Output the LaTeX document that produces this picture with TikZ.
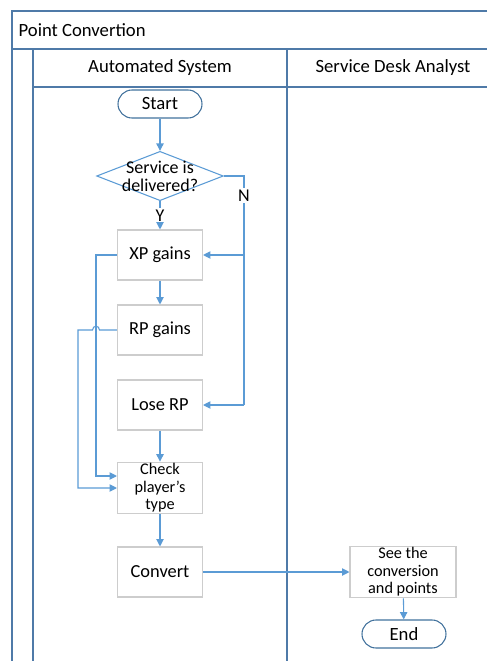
\documentclass[tikz,border=0pt]{standalone}
\usepackage{fontspec}
\setmainfont{Carlito}
\usetikzlibrary{arrows.meta,shapes.geometric}
\definecolor{flowblue}{RGB}{91,155,213}
\definecolor{laneblue}{RGB}{79,122,168}
\definecolor{termblue}{RGB}{65,113,156}
\definecolor{boxgray}{RGB}{205,205,205}

\begin{document}
\begin{tikzpicture}[x=0.75pt, y=-0.75pt, >={Triangle[length=5.5pt,width=5.5pt]},
  lane/.style={draw=laneblue, line width=1pt},
  process/.style={draw=boxgray, line width=0.8pt, minimum width=63.75pt,
    minimum height=37.5pt, inner sep=1pt, align=center, font=\fontsize{13.8}{15}\selectfont},
  term/.style={draw=termblue, line width=0.8pt, rounded corners=10.5pt,
    minimum width=63pt, minimum height=21pt, font=\fontsize{14}{15}\selectfont},
  decision/.style={diamond, draw=flowblue, line width=0.8pt, inner sep=0pt,
    minimum width=95pt, minimum height=37pt},
  small/.style={font=\fontsize{12.2}{13.2}\selectfont},
  flow/.style={draw=flowblue, line width=0.8pt},
  tag/.style={fill=white, inner sep=1pt, font=\fontsize{13.5}{14}\selectfont}]
  \useasboundingbox (0,0) rectangle (487,661);

  % swimlane frame
  \draw[lane] (487,11) -- (12,11) -- (12,661);
  \draw[lane] (12,49) -- (487,49);
  \draw[lane] (33,87) -- (487,87);
  \draw[lane] (33,49) -- (33,661);
  \draw[lane] (287,49) -- (287,661);
  \node[anchor=west, font=\fontsize{14}{15}\selectfont] (title) at (14,30) {Point Convertion};
  \node[font=\fontsize{14}{15}\selectfont] (laneA) at (160,68) {Automated System};
  \node[font=\fontsize{14}{15}\selectfont] (laneB) at (393,68) {Service Desk Analyst};

  % nodes
  \node[term] (start) at (160,104) {Start};
  \node[decision, label={[align=center, font=\fontsize{13.5}{13.5}\selectfont]center:{Service is\\delivered?}}] (dec) at (160,176) {};
  \node[process] (xp) at (160,255) {XP gains};
  \node[process] (rp) at (160,330) {RP gains};
  \node[process] (lose) at (160,405) {Lose RP};
  \node[process, small] (check) at (160,488) {Check\\player’s\\type};
  \node[process] (conv) at (160,572) {Convert};
  \node[process, small, minimum width=79.5pt] (see) at (403,572) {See the\\conversion\\and points};
  \node[term] (end) at (404,634) {End};

  % bend points
  \coordinate (nb) at (244,176);
  \coordinate (xl) at (96,255);
  \coordinate (rl) at (78,330);

  % connectors
  \draw[flow,->] (start) -- (dec);
  \draw[flow,->] (dec) -- node[tag] (yes) {Y} (xp);
  \draw[flow] (dec.east) -- (nb) -- node[tag, pos=0.085] (no) {N} (nb |- lose.east);
  \draw[flow,->] (nb |- xp.east) -- (xp.east);
  \draw[flow,->] (nb |- lose.east) -- (lose.east);
  \draw[flow,->] (xp) -- (rp);
  \draw[flow,->] (xp.west) -- (xl) -- (96,476) -- (check.west |- 0,476);
  \draw[flow,->] (rp.west) -- (99.5,330) .. controls (99.5,325) and (92.5,325) .. (92.5,330)
    -- (rl) -- (78,488) -- (check.west);
  \draw[flow,->] (lose) -- (check);
  \draw[flow,->] (check) -- (conv);
  \draw[flow,->] (conv) -- (see);
  \draw[flow,->] (see) -- (end);
\end{tikzpicture}
\end{document}
